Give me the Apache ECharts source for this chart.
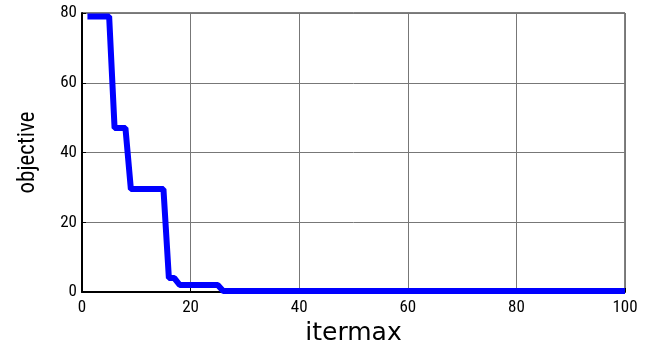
<!DOCTYPE html>
<html><head><meta charset="utf-8">
<script src="https://cdn.jsdelivr.net/npm/echarts@6/dist/echarts.min.js"></script>
<style>html,body{margin:0;padding:0;background:#fff}#c{width:650px;height:347px}</style>
</head><body><div id="c"></div>
<script>
const iterations = [1, 5, 6, 8, 9, 15, 16, 17, 18, 25, 26, 100];
const objective  = [79, 79, 47, 47, 29.5, 29.5, 4, 4, 2, 2, 0.3, 0.3];
const xTicks = [0, 20, 40, 60, 80, 100];
const yTicks = [0, 20, 40, 60, 80];

const cond = '"Roboto Condensed","DejaVu Sans",sans-serif';
const wide = '"DejaVu Sans",sans-serif';
const chart = echarts.init(document.getElementById('c'));
chart.setOption({
  animation: false,
  grid: { left: 82, right: 25, top: 13, bottom: 55, outerBoundsMode: 'none', containLabel: false,
          show: true, borderColor: '#000', borderWidth: 1, backgroundColor: '#fff' },
  xAxis: {
    type: 'value', min: xTicks[0], max: xTicks[xTicks.length-1], interval: 20,
    name: 'itermax', nameLocation: 'middle', nameGap: 29,
    nameTextStyle: { fontFamily: wide, fontSize: 25, color: '#000' },
    axisLine: { show: true, lineStyle: { color: '#000', width: 2 } },
    axisTick: { show: true, inside: true, length: 4, lineStyle: { color: '#000' } },
    axisLabel: { fontFamily: cond, fontSize: 17, color: '#000', margin: 7 },
    splitLine: { show: true, lineStyle: { color: '#777', width: 1 } }
  },
  yAxis: {
    type: 'value', min: yTicks[0], max: yTicks[yTicks.length-1], interval: 20,
    name: 'objective', nameLocation: 'middle', nameGap: 42, nameRotate: 90,
    nameTextStyle: { fontFamily: cond, fontSize: 23, color: '#000' },
    axisLine: { show: true, lineStyle: { color: '#000', width: 2 } },
    axisTick: { show: true, inside: true, length: 4, lineStyle: { color: '#000' } },
    axisLabel: { fontFamily: cond, fontSize: 17, color: '#000', margin: 5 },
    splitLine: { show: true, lineStyle: { color: '#777', width: 1 } }
  },
  series: [{
    type: 'line',
    data: iterations.map((x, i) => [x, objective[i]]),
    showSymbol: false,
    lineStyle: { color: '#0000ff', width: 6 },
    z: 5
  }]
});
</script></body></html>
